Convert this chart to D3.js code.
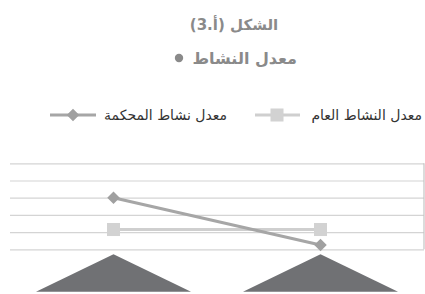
<!DOCTYPE html>
<html><head><meta charset="utf-8">
<script src="https://cdn.jsdelivr.net/npm/d3@7"></script>
<style>body{margin:0;background:#fff}svg{display:block}</style>
</head><body>
<script>
const categories = ["A", "B"];
const seriesNames = ["معدل النشاط العام", "معدل نشاط المحكمة"];
const generalValues = [1.15, 1.15];
const courtValues = [3.0, 0.25];
const yTicks = [0, 1, 2, 3, 4, 5];
const title1 = "الشكل (أ.3)";
const title2 = "معدل النشاط";

const W = 425, H = 294;
const svg = d3.select("body").append("svg").attr("width", W).attr("height", H);
const font = "DejaVu Sans";

const x = d3.scaleBand().domain(categories).range([10, 424]).padding(0);
const y = d3.scaleLinear().domain([0, 5]).range([249.3, 163.3]);

// titles
svg.append("text").attr("x", 234).attr("y", 30).attr("text-anchor", "middle")
  .attr("direction", "rtl").attr("font-family", font).attr("font-weight", "bold")
  .attr("font-size", 15).attr("fill", "#8a8a8a").text(title1);
svg.append("text").attr("x", 297).attr("y", 64).attr("text-anchor", "start")
  .attr("direction", "rtl").attr("font-family", font).attr("font-weight", "bold")
  .attr("font-size", 16).attr("fill", "#8a8a8a").text(title2);
svg.append("circle").attr("cx", 179).attr("cy", 58).attr("r", 4.2).attr("fill", "#8a8a8a");

// legend
const leg = svg.append("g");
leg.append("text").attr("x", 422).attr("y", 120).attr("text-anchor", "start")
  .attr("direction", "rtl").attr("font-family", font).attr("font-size", 14).attr("fill", "#333").text(seriesNames[0]);
leg.append("line").attr("x1", 255).attr("x2", 300).attr("y1", 115).attr("y2", 115).attr("stroke", "#cfcfcf").attr("stroke-width", 3);
leg.append("rect").attr("x", 277 - 6.5).attr("y", 115 - 6.5).attr("width", 13).attr("height", 13).attr("fill", "#d2d2d2");
leg.append("text").attr("x", 227).attr("y", 120).attr("text-anchor", "start")
  .attr("direction", "rtl").attr("font-family", font).attr("font-size", 14).attr("fill", "#333").text(seriesNames[1]);
leg.append("line").attr("x1", 50).attr("x2", 96).attr("y1", 115).attr("y2", 115).attr("stroke", "#a6a6a6").attr("stroke-width", 3);
leg.append("path").attr("d", d3.symbol(d3.symbolDiamond2, 100)()).attr("transform", "translate(73,115)").attr("fill", "#a0a0a0");

// gridlines
const grid = d3.axisLeft(y).tickValues(yTicks).tickSize(-(424 - 10)).tickFormat("");
const gg = svg.append("g").attr("transform", "translate(10,0)").call(grid);
gg.select(".domain").remove();
gg.selectAll("line").attr("stroke", "#d4d4d4").attr("stroke-width", 1.2);
svg.append("line").attr("x1", 424).attr("x2", 424).attr("y1", y(5)).attr("y2", y(0)).attr("stroke", "#c4c4c4").attr("stroke-width", 1.2);

// x-axis triangles
categories.forEach(c => {
  const cx = x(c) + x.bandwidth() / 2;
  svg.append("path").attr("d", `M${cx - 77.5},291.7 L${cx},254.3 L${cx + 77.5},291.7 Z`).attr("fill", "#707174");
});

const cxs = c => x(c) + x.bandwidth() / 2;
const line = d3.line().x((d, i) => cxs(categories[i])).y(d => y(d));

// general series
svg.append("path").datum(generalValues).attr("d", line).attr("fill", "none").attr("stroke", "#cfcfcf").attr("stroke-width", 3);
svg.selectAll(".sq").data(generalValues).enter().append("rect")
  .attr("x", (d, i) => cxs(categories[i]) - 6.5).attr("y", d => y(d) - 6.5)
  .attr("width", 13).attr("height", 13).attr("fill", "#d2d2d2");

// court series
svg.append("path").datum(courtValues).attr("d", line).attr("fill", "none").attr("stroke", "#a6a6a6").attr("stroke-width", 3);
svg.selectAll(".dm").data(courtValues).enter().append("path")
  .attr("d", d3.symbol(d3.symbolDiamond2, 100)())
  .attr("transform", (d, i) => `translate(${cxs(categories[i])},${y(d)})`).attr("fill", "#a0a0a0");
</script>
</body></html>
